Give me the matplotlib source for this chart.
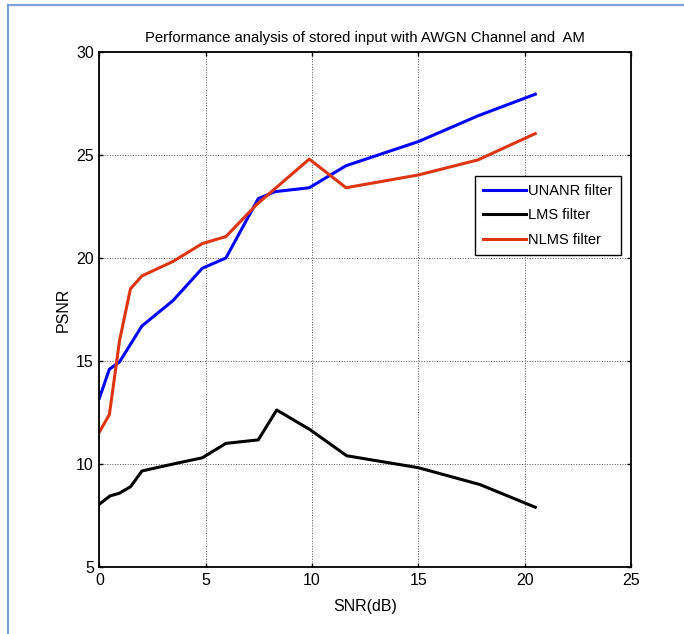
import matplotlib.pyplot as plt
from matplotlib.lines import Line2D

# Datos
snr_unanr = [0, 0.47, 0.95, 2.0, 3.46, 4.84, 5.95, 7.47, 8.26, 9.87, 11.6, 15.0, 17.8, 20.5]
psnr_unanr = [13.2, 14.6, 14.96, 16.7, 17.93, 19.5, 20.0, 22.88, 23.22, 23.41, 24.48, 25.65, 26.9, 27.95]

snr_lms = [0, 0.5, 0.94, 1.47, 2.0, 3.47, 4.84, 5.95, 7.47, 8.34, 9.9, 11.63, 15.0, 17.9, 20.5]
psnr_lms = [8.05, 8.45, 8.58, 8.9, 9.66, 10.0, 10.3, 11.0, 11.17, 12.62, 11.67, 10.4, 9.82, 9.0, 7.9]

snr_nlms = [0, 0.47, 0.95, 1.46, 2.0, 3.46, 4.84, 5.95, 7.4, 9.87, 11.6, 15.0, 17.8, 20.5]
psnr_nlms = [11.55, 12.4, 16.0, 18.5, 19.13, 19.83, 20.7, 21.04, 22.6, 24.8, 23.41, 24.03, 24.76, 26.04]

labels = ['UNANR filter', 'LMS filter', 'NLMS filter']
colors = ['#0000ff', '#000000', '#dd3510']

x_ticks = [0, 5, 10, 15, 20, 25]
y_ticks = [5, 10, 15, 20, 25, 30]

plt.rcParams['font.family'] = ['Liberation Sans', 'DejaVu Sans']

fig = plt.figure(figsize=(6.84, 6.34), dpi=100)
ax = fig.add_axes([0.1453, 0.1057, 0.7772, 0.8123])

ax.plot(snr_unanr, psnr_unanr, color=colors[0], lw=2.2, label=labels[0])
ax.plot(snr_lms, psnr_lms, color=colors[1], lw=2.2, label=labels[1])
ax.plot(snr_nlms, psnr_nlms, color=colors[2], lw=2.2, label=labels[2])

ax.set_xlim(0, 25)
ax.set_ylim(5, 30)
ax.set_xticks(x_ticks)
ax.set_yticks(y_ticks)
ax.tick_params(direction='in', length=3, width=1, top=True, right=True, labelsize=11.5, pad=4)
ax.grid(True, color='#555555', linestyle=':', linewidth=0.7)
for s in ax.spines.values():
    s.set_linewidth(1.3)

ax.set_title('Performance analysis of stored input with AWGN Channel and  AM',
             fontsize=10.7, pad=7)
ax.set_xlabel('SNR(dB)', fontsize=11.5, labelpad=8)
ax.set_ylabel('PSNR', fontsize=11.5, labelpad=4)

leg = ax.legend(loc='upper right', bbox_to_anchor=(0.981, 0.759), fontsize=10.5,
                fancybox=False, framealpha=1, edgecolor='black', borderpad=0.55,
                handlelength=2.9, handletextpad=0.2, labelspacing=0.71, borderaxespad=0)
leg.get_frame().set_linewidth(1.0)

# Marco azul alrededor de la figura
fig.add_artist(Line2D([7.5 / 684, 7.5 / 684], [0, 1 - 5 / 634], transform=fig.transFigure,
                      color='#7fa2d6', lw=1.6))
fig.add_artist(Line2D([7.5 / 684, 1], [1 - 5 / 634, 1 - 5 / 634], transform=fig.transFigure,
                      color='#7fa2d6', lw=1.6))

fig.savefig('out.png', dpi=100)
